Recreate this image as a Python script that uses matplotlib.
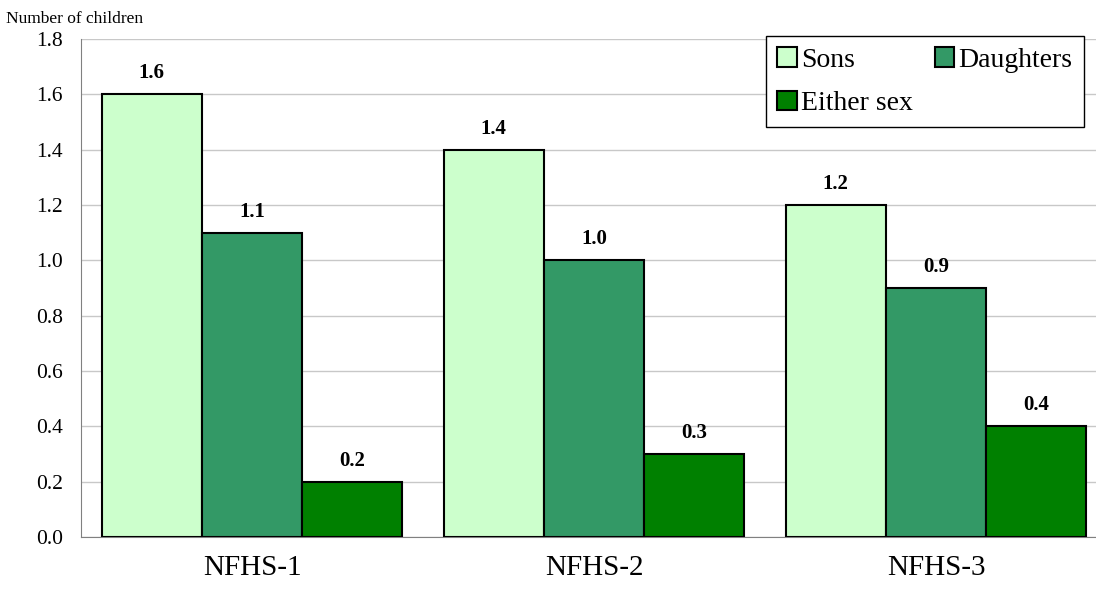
import matplotlib
matplotlib.use("Agg")
import matplotlib.pyplot as plt
import numpy as np

categories = ["NFHS-1", "NFHS-2", "NFHS-3"]
series_names = ["Sons", "Daughters", "Either sex"]
sons = [1.6, 1.4, 1.2]
daughters = [1.1, 1.0, 0.9]
either_sex = [0.2, 0.3, 0.4]
yticks = [0.0, 0.2, 0.4, 0.6, 0.8, 1.0, 1.2, 1.4, 1.6, 1.8]

colors = ["#CCFFCC", "#339966", "#008000"]

plt.rcParams["font.family"] = ["Liberation Serif", "DejaVu Serif"]

fig = plt.figure(figsize=(10.96, 5.90), dpi=100)
ax = fig.add_axes([81 / 1096, 1 - 537 / 590, 1026 / 1096, (537 - 39) / 590])

x = np.arange(len(categories))
width = 0.293
handles = []
for i, (vals, name, col) in enumerate(zip([sons, daughters, either_sex], series_names, colors)):
    pos = x + (i - 1) * width
    bars = ax.bar(pos, vals, width, color=col, edgecolor="black", linewidth=1.5,
                  label=name, zorder=3)
    handles.append(bars)
    for p, v in zip(pos, vals):
        ax.annotate(f"{v:.1f}", (p, v), xytext=(0, 8), textcoords="offset points",
                    ha="center", va="bottom", fontsize=15, fontweight="bold")

ax.set_xlim(-0.5, 2.5)
ax.set_ylim(0, 1.8)
ax.set_yticks(yticks)
ax.set_yticklabels([f"{t:.1f}" for t in yticks], fontsize=15.5)
ax.set_xticks(x)
ax.set_xticklabels(categories, fontsize=21)
ax.tick_params(axis="y", length=0, pad=13)
ax.tick_params(axis="x", length=0, pad=13)
ax.yaxis.grid(True, color="#C8C8C8", linewidth=1, zorder=0)
ax.set_axisbelow(True)
for s in ["top", "right"]:
    ax.spines[s].set_visible(False)
ax.spines["left"].set_color("#808080")
ax.spines["bottom"].set_color("#808080")

fig.text(6 / 1096, 1 - 19 / 590, "Number of children", fontsize=12.5, ha="left", va="center")

leg = ax.legend([handles[0], handles[2], handles[1]],
                [series_names[0], series_names[2], series_names[1]],
                ncol=2, loc="upper left", bbox_to_anchor=(766 / 1096, 1 - 36 / 590),
                bbox_transform=fig.transFigure, fontsize=20, frameon=True,
                fancybox=False, edgecolor="black", framealpha=1,
                handlelength=0.7, handleheight=0.7, handletextpad=0.15,
                columnspacing=0.8, borderpad=0.4, labelspacing=0.65, borderaxespad=0)
leg.get_frame().set_linewidth(1.0)

fig.savefig("out.png", dpi=100)
